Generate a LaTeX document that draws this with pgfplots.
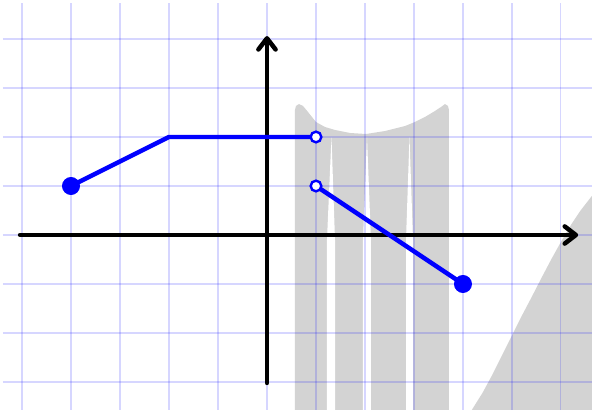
\documentclass[border=0pt]{standalone}
\usepackage{pgfplots}
\pgfplotsset{compat=1.18}
\usetikzlibrary{arrows.meta}
\definecolor{shade}{RGB}{211,211,211}
\begin{document}
\begin{tikzpicture}
\begin{axis}[
  set layers,
  x=1cm, y=1cm,
  xmin=-5.39, xmax=6.633, ymin=-3.571, ymax=4.735,
  xtick={-5,-4,-3,-2,-1,0,1,2,3,4,5,6},
  ytick={-3,-2,-1,0,1,2,3,4},
  xticklabels={}, yticklabels={},
  grid=major,
  major grid style={draw=blue, opacity=0.16, line width=0.6pt},
  axis line style={draw=none},
  major tick length=0pt,
]
% gray shape in the middle
\addplot[on layer=axis background, fill=shade, draw=none] coordinates {
(0.571,-3.571) (0.571,2.551) (0.592,2.633) (0.653,2.673) (0.735,2.633)
(0.837,2.510) (1.0,2.306) (1.184,2.204) (1.388,2.143) (1.694,2.082)
(2.020,2.061) (2.408,2.122) (2.816,2.224) (3.020,2.306) (3.224,2.408)
(3.429,2.531) (3.551,2.612) (3.633,2.673) (3.694,2.633) (3.714,2.551)
(3.714,-3.571)} -- cycle;
% white gaps
\addplot[on layer=axis background, fill=white, draw=none] coordinates {
(1.316,2.0) (1.388,-0.102) (1.388,-3.571) (1.224,-3.571) (1.224,-0.102)} -- cycle;
\addplot[on layer=axis background, fill=white, draw=none] coordinates {
(2.041,2.0) (2.122,-0.102) (2.122,-3.571) (1.959,-3.571) (1.959,-0.102)} -- cycle;
\addplot[on layer=axis background, fill=white, draw=none] coordinates {
(2.908,2.0) (2.980,-0.102) (2.980,-3.571) (2.837,-3.571) (2.837,-0.102)} -- cycle;
% gray area bottom right
\addplot[on layer=axis background, fill=shade, draw=none] coordinates {
(4.18,-3.571) (4.4,-3.22) (4.6,-2.85) (4.8,-2.45) (5.0,-2.05) (5.2,-1.65)
(5.4,-1.27) (5.6,-0.88) (5.8,-0.5) (6.0,-0.14) (6.2,0.2) (6.4,0.5)
(6.633,0.8) (6.633,-3.571)} -- cycle;
% axes
\addplot[black, line width=2.6pt, line cap=round,
  -{Straight Barb[length=6.5pt, width=10pt, line cap=round, line join=round]}]
  coordinates {(-5.04,0) (6.35,0)};
\addplot[black, line width=2.6pt, line cap=round,
  -{Straight Barb[length=6.5pt, width=10pt, line cap=round, line join=round]}]
  coordinates {(0,-3.02) (0,4.06)};
% function
\addplot[blue, line width=2.6pt] coordinates {(-4,1) (-2,2) (1,2)};
\addplot[blue, line width=2.6pt] coordinates {(1,1) (4,-1)};
\addplot[only marks, mark=*, mark size=5pt, blue] coordinates {(-4,1) (4,-1)};
\addplot[only marks, mark=*, mark size=3.1pt,
  mark options={draw=blue, fill=white, line width=1.4pt}] coordinates {(1,2) (1,1)};
\coordinate (bbl) at (axis cs:-5.449,-3.571);
\coordinate (btr) at (axis cs:6.633,4.796);
\end{axis}
\pgfresetboundingbox
\path[use as bounding box] (bbl) rectangle (btr);
\end{tikzpicture}
\end{document}
